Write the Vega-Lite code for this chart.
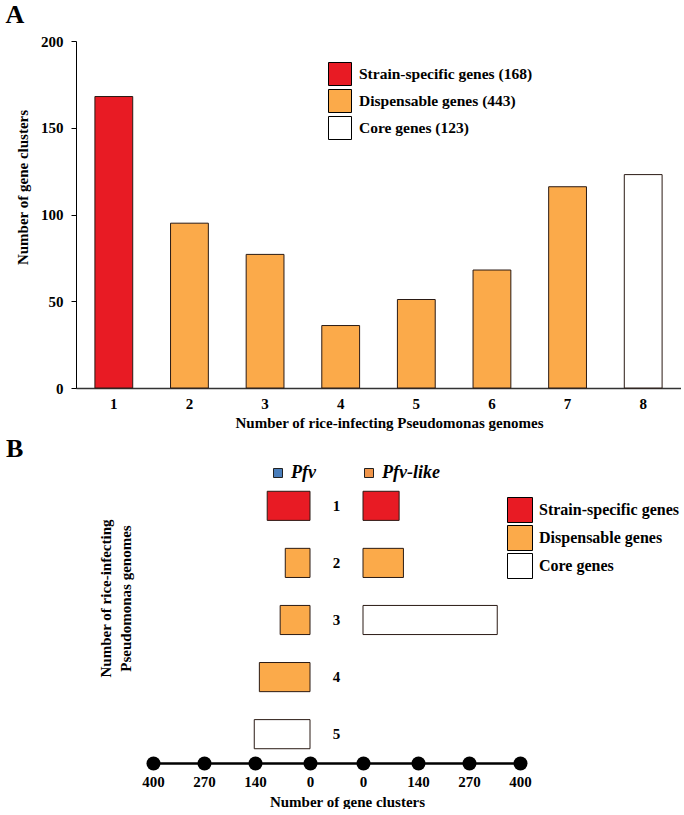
{
  "$schema": "https://vega.github.io/schema/vega-lite/v6.json",
  "background": "white",
  "padding": {"left": 5, "top": 2, "right": 0, "bottom": 0},
  "config": {
    "font": "Liberation Serif",
    "view": {"stroke": null},
    "axis": {"labelFont": "Liberation Serif", "titleFont": "Liberation Serif", "labelFontWeight": "bold", "titleFontWeight": "bold", "labelColor": "black", "titleColor": "black", "domainColor": "black", "tickColor": "black", "grid": false, "labelFontSize": 15, "titleFontSize": 15},
    "legend": {"labelFont": "Liberation Serif", "labelFontWeight": "bold", "labelColor": "black", "padding": 0, "labelLimit": 0},
    "title": {"font": "Liberation Serif", "fontWeight": "bold", "fontSize": 26, "anchor": "start", "color": "black"}
  },
  "datasets": {
    "a": [
      {"g": "1", "n": 168, "type": "Strain-specific genes (168)"},
      {"g": "2", "n": 95, "type": "Dispensable genes (443)"},
      {"g": "3", "n": 77, "type": "Dispensable genes (443)"},
      {"g": "4", "n": 36, "type": "Dispensable genes (443)"},
      {"g": "5", "n": 51, "type": "Dispensable genes (443)"},
      {"g": "6", "n": 68, "type": "Dispensable genes (443)"},
      {"g": "7", "n": 116, "type": "Dispensable genes (443)"},
      {"g": "8", "n": 123, "type": "Core genes (123)"}
    ],
    "b": [
      {"side": "Pfv", "g": "1", "n": 109, "type": "Strain-specific genes"},
      {"side": "Pfv", "g": "2", "n": 63, "type": "Dispensable genes"},
      {"side": "Pfv", "g": "3", "n": 76, "type": "Dispensable genes"},
      {"side": "Pfv", "g": "4", "n": 129, "type": "Dispensable genes"},
      {"side": "Pfv", "g": "5", "n": 142, "type": "Core genes"},
      {"side": "Pfv-like", "g": "1", "n": 92, "type": "Strain-specific genes"},
      {"side": "Pfv-like", "g": "2", "n": 103, "type": "Dispensable genes"},
      {"side": "Pfv-like", "g": "3", "n": 342, "type": "Core genes"}
    ]
  },
  "columns": 1,
  "align": "none",
  "spacing": 6,
  "resolve": {"scale": {"fill": "independent", "opacity": "independent"}, "legend": {"fill": "independent", "opacity": "independent"}},
  "concat": [
    {
      "title": {"text": "A", "offset": 6, "dx": -10},
      "width": 605,
      "height": 347,
      "data": {"name": "a"},
      "mark": {"type": "bar", "stroke": "#2a1a14", "strokeWidth": 1},
      "encoding": {
        "x": {"field": "g", "type": "ordinal", "scale": {"paddingInner": 0.5, "paddingOuter": 0.25},
          "axis": {"labelAngle": 0, "ticks": false, "tickSize": 0, "domainWidth": 1.5, "domainColor": "#333333", "labelPadding": 8, "title": "Number of rice-infecting Pseudomonas genomes", "titlePadding": 4, "titleX": 313}},
        "y": {"field": "n", "type": "quantitative", "scale": {"domain": [0, 200], "nice": false},
          "axis": {"values": [0, 50, 100, 150, 200], "tickSize": 5, "labelPadding": 8, "title": "Number of gene clusters", "titlePadding": 10, "titleY": 146}},
        "fill": {"field": "type", "type": "nominal",
          "scale": {"domain": ["Strain-specific genes (168)", "Dispensable genes (443)", "Core genes (123)"], "range": ["#E81B24", "#FBAA4A", "#FFFFFF"]},
          "legend": {"orient": "none", "legendX": 252, "legendY": 21, "title": null, "symbolType": "square", "symbolSize": 529, "symbolStrokeColor": "black", "symbolStrokeWidth": 1, "symbolOpacity": 1, "rowPadding": -1, "labelFontSize": 15.5, "labelOffset": 7}}
      }
    },
    {
      "title": {"text": "B", "offset": 2, "dx": -70},
      "spacing": 0,
      "bounds": "flush",
      "resolve": {"scale": {"fill": "independent", "opacity": "independent", "x": "independent", "y": "independent"}, "legend": {"fill": "independent", "opacity": "independent"}},
      "hconcat": [
        {
          "width": 77,
          "height": 286,
          "data": {"values": [{"blank": ""}]},
          "mark": {"type": "text"},
          "encoding": {"text": {"field": "blank"}}
        },
        {
          "width": 157,
          "height": 286,
          "data": {"name": "b"},
          "transform": [{"filter": "datum.side === 'Pfv'"}],
          "mark": {"type": "bar", "stroke": "#2a1a14", "strokeWidth": 1},
          "encoding": {
            "y": {"field": "g", "type": "ordinal", "scale": {"domain": ["1", "2", "3", "4", "5"], "paddingInner": 0.49, "paddingOuter": 0.25},
              "axis": {"labels": false, "ticks": false, "domain": false, "title": ["Number of rice-infecting", "Pseudomonas genomes"], "titlePadding": 20, "titleY": 121, "titleLineHeight": 20}},
            "x": {"field": "n", "type": "quantitative", "scale": {"domain": [0, 400], "reverse": true, "nice": false},
              "axis": {"values": [0, 140, 270, 400], "domainWidth": 2.5, "domainColor": "black", "tickSize": 0.1, "tickWidth": 14, "tickCap": "round", "tickColor": "black", "labelPadding": 11, "labelFlush": false, "labelOverlap": false, "labelBound": false, "title": null}},
            "fill": {"field": "type", "type": "nominal",
              "scale": {"domain": ["Strain-specific genes", "Dispensable genes", "Core genes"], "range": ["#E81B24", "#FBAA4A", "#FFFFFF"]},
              "legend": null},
            "opacity": {"field": "side", "type": "nominal", "scale": {"domain": ["Pfv"], "range": [1]},
              "legend": {"orient": "none", "legendX": 116, "legendY": -13, "title": null, "symbolType": "square", "symbolSize": 81, "symbolFillColor": "#4A7EBB", "symbolStrokeColor": "#222222", "symbolStrokeWidth": 1, "labelFontSize": 18, "labelFontStyle": "italic", "labelOffset": 4}}
          }
        },
        {
          "width": 53,
          "height": 286,
          "data": {"name": "b"},
          "transform": [{"filter": "datum.side === 'Pfv'"}],
          "mark": {"type": "text", "fontSize": 15, "fontWeight": "bold", "font": "Liberation Serif", "color": "black"},
          "encoding": {
            "y": {"field": "g", "type": "ordinal", "scale": {"domain": ["1", "2", "3", "4", "5"], "paddingInner": 0.49, "paddingOuter": 0.25}, "axis": null},
            "x": {"datum": 0, "type": "quantitative", "scale": {"domain": [-1, 1]},
              "axis": {"domainWidth": 2.5, "domainColor": "black", "ticks": false, "labels": false, "grid": false, "title": "Number of gene clusters", "titlePadding": 31, "titleX": 37}},
            "text": {"field": "g"}
          }
        },
        {
          "width": 157,
          "height": 286,
          "data": {"name": "b"},
          "transform": [{"filter": "datum.side === 'Pfv-like'"}],
          "mark": {"type": "bar", "stroke": "#2a1a14", "strokeWidth": 1},
          "encoding": {
            "y": {"field": "g", "type": "ordinal", "scale": {"domain": ["1", "2", "3", "4", "5"], "paddingInner": 0.49, "paddingOuter": 0.25}, "axis": null},
            "x": {"field": "n", "type": "quantitative", "scale": {"domain": [0, 400], "nice": false},
              "axis": {"values": [0, 140, 270, 400], "domainWidth": 2.5, "domainColor": "black", "tickSize": 0.1, "tickWidth": 14, "tickCap": "round", "tickColor": "black", "labelPadding": 11, "labelFlush": false, "labelOverlap": false, "labelBound": false, "title": null}},
            "fill": {"field": "type", "type": "nominal",
              "scale": {"domain": ["Strain-specific genes", "Dispensable genes", "Core genes"], "range": ["#E81B24", "#FBAA4A", "#FFFFFF"]},
              "legend": {"orient": "none", "legendX": 144, "legendY": 20, "title": null, "symbolType": "square", "symbolSize": 625, "symbolStrokeColor": "black", "symbolStrokeWidth": 1, "symbolOpacity": 1, "rowPadding": -4, "labelFontSize": 16, "labelOffset": 6}},
            "opacity": {"field": "side", "type": "nominal", "scale": {"domain": ["Pfv-like"], "range": [1]},
              "legend": {"orient": "none", "legendX": -3, "legendY": -13, "title": null, "symbolType": "square", "symbolSize": 81, "symbolFillColor": "#F0954A", "symbolStrokeColor": "#222222", "symbolStrokeWidth": 1, "labelFontSize": 18, "labelFontStyle": "italic", "labelOffset": 4}}
          }
        }
      ]
    }
  ]
}
